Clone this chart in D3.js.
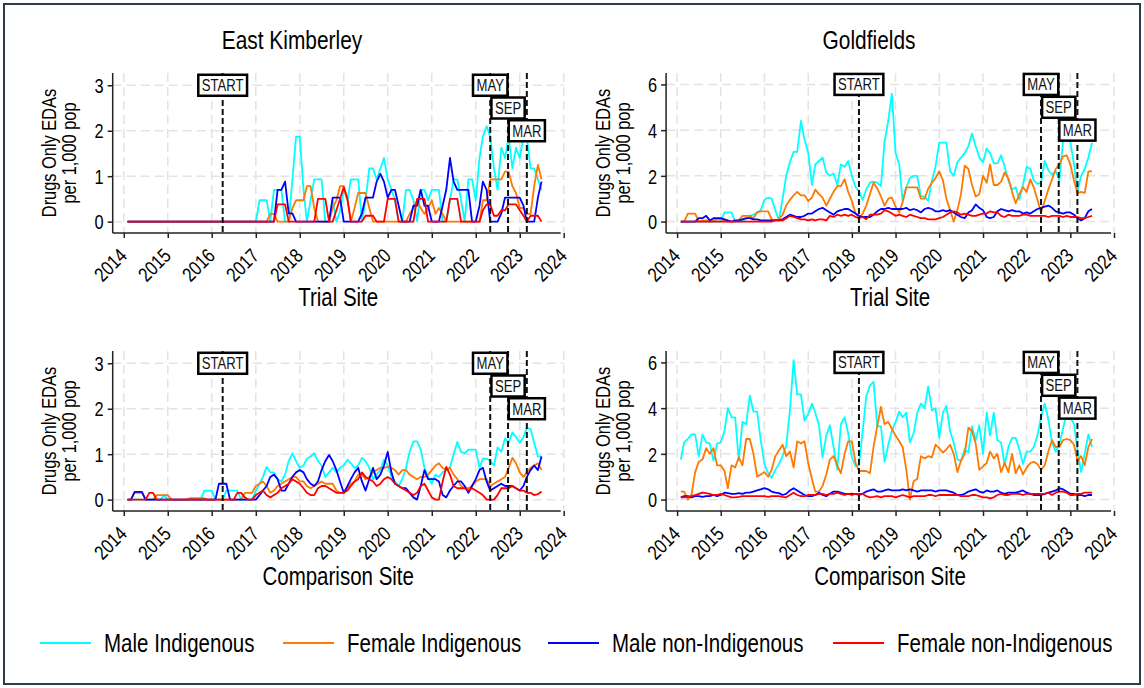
<!DOCTYPE html>
<html>
<head>
<meta charset="utf-8">
<script src="https://cdn.jsdelivr.net/npm/d3@7"></script>
<style>
  body { margin: 0; background: #fff; }
  svg { display: block; }
</style>
</head>
<body>
<svg id="chart" width="1144" height="688"></svg>
<script>
// Monthly drug-only ED attendances per 1,000 population, Feb 2014 – Jul 2023 (114 months)
const months = d3.timeMonth.range(new Date(2014, 1, 1), new Date(2023, 7, 1));

const seriesNames = ["Male Indigenous", "Female Indigenous", "Male non-Indigenous", "Female non-Indigenous"];
const seriesColors = ["#00ffff", "#ff7800", "#0000ff", "#ff0000"];
const yearTicks = d3.range(2014, 2025);

// ---- East Kimberley, trial site ----
const ekTrialMaleInd = [
  0,0,0,0,0,0,0,0,0,0,0,0,
  0,0,0,0,0,0,0,0,0,0,0,0,
  0,0,0,0,0,0,0,0,0,0,0,0,
  0.47,0.47,0.47,0,0.7,0.7,0.7,0,0,0.93,1.87,1.87,
  0.7,0,0.47,0.93,0.93,0.93,0,0,0.47,0,0.23,0.7,
  0.47,0.93,0.93,0.93,0,0.47,1.17,1.17,0.93,1.17,1.4,0.93,
  0.7,0.47,0,0,0.7,0.7,0.47,0,0.7,0.7,0.47,0.7,
  0.7,0.7,0,0,0.47,0.93,0.93,0.47,0,0.93,0.93,0.47,
  1.4,1.87,2.1,1.87,1.17,0.7,1.63,1.4,1.87,1.17,1.63,1.4,
  1.87,1.87,1.17,1.17,0.93,0.7
];
const ekTrialFemaleInd = [
  0,0,0,0,0,0,0,0,0,0,0,0,
  0,0,0,0,0,0,0,0,0,0,0,0,
  0,0,0,0,0,0,0,0,0,0,0,0,
  0,0,0,0.17,0.17,0,0,0,0,0.3,0.47,0.47,
  0.47,0.78,0.78,0.3,0,0,0,0,0.3,0.47,0.78,0.78,
  0.47,0,0.3,0.63,0.63,0.63,0.3,0,0,0,0,0,
  0,0,0,0,0,0.17,0.3,0.47,0.3,0.17,0.3,0.47,
  0.17,0.3,0.17,0,0,0,0,0,0,0,0,0,
  0,0.47,0.47,0.93,0.93,0.93,0.93,1.1,1.1,0.78,0.63,0.3,
  0.3,0.17,0.17,0.78,1.25,0.93
];
const ekTrialMaleNon = [
  0,0,0,0,0,0,0,0,0,0,0,0,
  0,0,0,0,0,0,0,0,0,0,0,0,
  0,0,0,0,0,0,0,0,0,0,0,0,
  0,0,0,0,0,0.7,0.7,0.88,0.18,0.18,0,0,
  0,0,0,0,0,0,0,0,0.53,0.53,0.53,0,
  0,0,0,0,0.18,0.53,0.53,0.53,0.88,1.05,0.88,0.53,
  0.7,0.7,0.35,0,0,0,0.35,0.35,0.7,0.35,0.35,0,
  0,0,0.35,0.7,1.4,0.88,0.7,0.7,0.7,0.7,0,0,
  0.35,0.88,0.7,0,0,0,0.18,0.53,0.53,0.53,0.53,0.53,
  0.35,0,0,0,0.53,0.88
];
const ekTrialFemaleNon = [
  0,0,0,0,0,0,0,0,0,0,0,0,
  0,0,0,0,0,0,0,0,0,0,0,0,
  0,0,0,0,0,0,0,0,0,0,0,0,
  0,0,0,0,0,0.38,0.38,0.38,0,0,0,0,
  0,0,0,0,0.5,0.5,0.5,0,0,0.25,0.5,0.76,
  0.5,0,0,0,0,0.13,0.13,0.13,0,0,0,0.5,
  0.5,0.5,0,0,0,0,0,0.5,0.5,0.5,0,0,
  0,0,0,0,0.5,0.5,0.5,0,0,0,0,0,
  0,0.25,0.38,0.38,0.13,0.13,0.25,0.25,0.38,0.38,0.38,0.25,
  0.13,0,0.13,0.13,0.13,0
];

// ---- Goldfields, trial site ----
const gfTrialMaleInd = [
  0,0,0,0,0,0,0,0,0,0,0,0,
  0.4,0.4,0.4,0,0,0.05,0.1,0.25,0.3,0.4,0.5,0.95,
  1.05,1.0,0.5,0.05,1.0,2.0,2.6,3.05,3.05,4.4,3.6,3.0,
  1.6,2.5,2.65,2.8,2.15,2.0,2.1,1.6,2.5,2.4,2.65,2.0,
  1.5,1.35,0.95,1.4,1.7,1.75,1.7,1.55,3.5,4.4,5.6,3.0,
  2.5,0.9,1.5,1.9,2.0,2.0,1.1,1.1,0.9,1.8,2.4,3.45,
  3.45,3.45,2.2,2.0,2.6,2.8,3.0,3.3,3.85,3.3,2.8,2.6,
  3.2,3.0,2.55,2.55,2.9,2.4,1.8,1.4,1.5,0.95,1.6,2.4,
  2.3,1.8,1.65,1.7,2.65,2.25,2.05,2.2,1.8,3.5,3.9,3.5,
  2.5,1.3,2.0,2.3,2.8,3.45
];
const gfTrialFemaleInd = [
  0,0,0.35,0.35,0.35,0,0.05,0.05,0,0.05,0.1,0.1,
  0.05,0,0,0,0.05,0.25,0.25,0.25,0.15,0.4,0.45,0.45,
  0.45,0.1,0.05,0.1,0.3,0.7,0.95,1.15,1.3,1.15,1.15,0.9,
  1.05,1.4,1.2,1.05,0.7,1.0,1.3,1.55,1.55,1.85,1.3,0.9,
  0.35,0.15,0.35,0.7,1.2,1.7,1.45,1.1,0.7,1.0,1.05,0.65,
  0.4,0.85,1.5,1.5,1.5,1.5,1.0,1.0,1.45,1.7,1.9,2.2,
  1.8,1.0,0.5,0.0,0.5,1.2,2.45,2.3,1.6,1.1,1.2,2.0,
  1.7,2.5,1.6,1.6,1.75,2.15,1.9,1.3,0.8,1.2,1.5,1.3,
  1.85,1.5,0.95,0.4,0.9,1.4,1.85,2.3,2.5,2.85,2.9,2.5,
  1.8,1.25,1.3,1.25,2.2,2.2
];
const gfTrialMaleNon = [
  0,0,0,0,0,0.15,0.15,0.25,0.05,0.15,0.15,0.15,
  0.1,0.05,0,0.05,0.05,0.1,0.15,0.15,0.1,0.1,0.05,0.05,
  0.05,0.05,0.05,0.05,0.1,0.2,0.3,0.25,0.2,0.2,0.25,0.35,
  0.35,0.45,0.55,0.6,0.5,0.4,0.3,0.45,0.5,0.55,0.55,0.45,
  0.35,0.25,0.2,0.2,0.2,0.3,0.45,0.55,0.55,0.6,0.55,0.55,
  0.55,0.55,0.6,0.5,0.55,0.5,0.4,0.55,0.6,0.55,0.45,0.45,
  0.5,0.45,0.5,0.4,0.3,0.2,0.15,0.4,0.5,0.75,0.6,0.5,
  0.2,0.15,0.2,0.45,0.55,0.5,0.45,0.5,0.45,0.45,0.35,0.4,
  0.35,0.45,0.55,0.6,0.65,0.7,0.6,0.45,0.4,0.35,0.4,0.4,
  0.3,0.15,0.05,0.15,0.45,0.55
];
const gfTrialFemaleNon = [
  0,0,0,0,0,0,0,0,0,0,0,0,
  0,0,0,0,0,0,0,0,0,0,0,0,
  0,0,0.05,0.05,0.05,0.15,0.25,0.2,0.15,0.1,0.1,0.05,
  0.1,0.05,0.1,0.1,0.05,0.25,0.2,0.3,0.25,0.3,0.25,0.3,
  0.2,0.15,0.2,0.1,0.3,0.3,0.3,0.35,0.5,0.45,0.35,0.25,
  0.3,0.25,0.2,0.3,0.25,0.2,0.15,0.15,0.1,0.1,0.1,0.15,
  0.2,0.3,0.4,0.45,0.4,0.3,0.35,0.3,0.25,0.25,0.3,0.35,
  0.35,0.45,0.4,0.4,0.25,0.2,0.3,0.25,0.25,0.25,0.3,0.3,
  0.25,0.25,0.25,0.25,0.25,0.2,0.25,0.25,0.25,0.2,0.25,0.2,
  0.2,0.2,0.15,0.15,0.2,0.25
];

// ---- East Kimberley, comparison site ----
const ekCompMaleInd = [
  0,0,0,0,0,0,0,0,0,0,0.1,0,
  0,0,0,0,0,0,0,0,0,0.2,0.2,0.2,
  0,0,0,0.2,0.2,0.2,0.2,0,0,0,0,0.2,
  0.35,0.5,0.72,0.6,0.6,0.45,0.4,0.55,0.85,1.02,0.85,0.7,
  0.75,0.9,0.95,1.02,0.85,0.75,0.5,0.6,0.7,0.6,0.7,0.75,
  0.88,0.8,0.7,0.75,0.92,0.85,0.7,0.45,0.55,0.65,0.88,0.75,
  0.5,0.4,0.3,0.45,0.7,1.05,1.28,1.28,1.1,0.7,0.5,0.35,
  0.55,0.5,0.6,0.65,0.7,1.0,1.27,1.05,1.02,1.1,1.1,1.1,
  0.7,0.9,0.9,0.85,0.75,1.15,1.05,1.35,1.25,1.48,1.38,1.25,
  1.38,1.58,1.55,1.25,0.95,0.95
];
const ekCompFemaleInd = [
  0,0,0.15,0.15,0.15,0,0,0,0.1,0.1,0.1,0.1,
  0,0,0,0,0,0.03,0.03,0.03,0.03,0.03,0,0,
  0,0,0,0,0,0,0,0,0.15,0.15,0.15,0.3,
  0.35,0.4,0.3,0.15,0.2,0.3,0.35,0.4,0.45,0.5,0.5,0.4,
  0.4,0.3,0.25,0.3,0.35,0.4,0.35,0.35,0.35,0.2,0.15,0.15,
  0.25,0.35,0.4,0.55,0.55,0.45,0.5,0.6,0.65,0.7,0.7,0.72,
  0.7,0.65,0.55,0.65,0.65,0.55,0.5,0.45,0.5,0.5,0.55,0.65,
  0.75,0.8,0.7,0.65,0.7,0.55,0.45,0.3,0.25,0.25,0.3,0.4,
  0.45,0.45,0.45,0.3,0.35,0.4,0.45,0.5,0.7,0.92,0.8,0.6,
  0.5,0.6,0.7,0.75,0.8,0.65
];
const ekCompMaleNon = [
  0,0,0.17,0.17,0.17,0,0,0,0,0,0,0,
  0,0,0,0,0,0,0,0,0,0,0,0,
  0,0.35,0.35,0.35,0,0,0,0,0,0,0,0,
  0.1,0.2,0.3,0.5,0.55,0.45,0.2,0.2,0.35,0.5,0.6,0.65,
  0.6,0.45,0.35,0.3,0.4,0.65,0.85,0.98,0.85,0.65,0.4,0.15,
  0.3,0.45,0.6,0.7,0.4,0.2,0.45,0.7,0.45,0.55,0.75,1.05,
  0.6,0.35,0.3,0.25,0.25,0.15,0.05,0,0.3,0.65,0.45,0.45,
  0.45,0.4,0.1,0.05,0.2,0.3,0.4,0.4,0.3,0.15,0.3,0.45,
  0.65,0.7,0.4,0.2,0.25,0.3,0.35,0.3,0.3,0.3,0.25,0.2,
  0.3,0.5,0.65,0.75,0.65,0.95
];
const ekCompFemaleNon = [
  0,0,0,0,0,0,0.15,0.15,0,0,0,0,
  0,0,0,0,0,0,0,0,0,0,0,0,
  0,0,0,0,0,0,0.15,0.15,0.05,0,0,0.1,
  0.15,0.2,0.1,0.05,0.1,0.15,0.25,0.3,0.35,0.45,0.4,0.35,
  0.25,0.15,0.1,0.1,0.25,0.3,0.3,0.25,0.2,0.15,0.15,0.15,
  0.2,0.3,0.4,0.45,0.6,0.5,0.45,0.4,0.3,0.35,0.45,0.5,
  0.45,0.35,0.3,0.25,0.2,0.15,0.1,0.15,0.3,0.35,0.2,0.05,
  0,0,0.4,0.72,0.55,0.3,0.25,0.25,0.25,0.2,0.25,0.2,
  0.15,0.1,0,0,0,0.1,0.25,0.25,0.25,0.3,0.25,0.2,
  0.2,0.15,0.15,0.1,0.12,0.18
];

// ---- Goldfields, comparison site ----
const gfCompMaleInd = [
  1.75,2.5,2.65,2.85,2.85,1.9,2.85,2.5,2.45,1.7,2.45,2.5,
  3.0,4.0,3.6,3.6,1.7,3.4,3.3,4.55,3.85,3.85,2.6,1.55,
  1.15,0.95,1.3,1.55,1.9,2.35,3.9,6.1,4.6,4.6,3.45,3.75,
  4.2,3.8,3.25,1.85,2.8,3.25,2.3,1.3,3.3,3.6,2.9,1.85,
  1.45,1.5,3.0,4.5,5.0,5.15,3.2,3.2,1.65,2.4,3.0,3.4,
  3.85,3.6,3.8,2.5,2.9,3.8,4.2,4.0,4.95,3.9,4.0,2.7,
  3.8,4.1,3.0,2.5,1.75,1.7,2.2,2.05,3.2,2.6,3.25,2.0,
  3.8,2.8,3.8,2.6,2.5,1.5,2.3,2.7,2.7,2.2,1.55,2.1,
  2.1,2.3,2.8,3.6,4.2,3.5,2.5,2.1,2.4,3.1,3.8,3.6,
  3.3,2.2,1.2,2.0,2.85,2.3
];
const gfCompFemaleInd = [
  0.35,0.35,0.0,0.2,1.2,1.65,1.75,2.25,2.0,2.25,1.5,1.5,
  1.25,0.5,1.5,1.4,1.85,1.5,2.65,2.65,2.0,1.0,1.1,1.2,
  1.0,1.3,1.9,2.15,2.4,1.9,2.1,1.4,2.55,2.45,2.55,1.6,
  0.9,0.35,0.35,0.6,1.1,1.75,1.9,1.5,1.15,2.0,2.55,2.55,
  1.6,1.25,1.25,1.25,1.15,2.3,3.2,4.05,3.3,3.4,3.1,2.8,
  2.55,2.3,1.3,0.0,0.8,0.9,1.9,1.8,1.9,1.85,2.4,2.25,
  2.05,2.2,2.4,2.0,1.2,1.7,2.0,3.15,3.0,2.45,1.3,1.45,
  1.6,2.1,1.8,2.0,1.2,1.6,1.2,2.0,1.15,1.5,1.1,1.4,
  1.6,1.65,1.55,1.3,1.5,2.1,2.6,2.3,2.3,2.6,2.65,2.6,
  2.4,1.7,1.9,1.5,2.3,2.65
];
const gfCompMaleNon = [
  0.1,0.15,0.15,0.1,0.15,0.15,0.12,0.15,0.15,0.2,0.15,0.2,
  0.3,0.28,0.25,0.25,0.28,0.25,0.3,0.3,0.35,0.4,0.45,0.5,
  0.45,0.35,0.3,0.28,0.2,0.25,0.4,0.5,0.4,0.3,0.2,0.15,
  0.15,0.2,0.3,0.2,0.15,0.25,0.35,0.35,0.3,0.25,0.25,0.25,
  0.25,0.2,0.25,0.35,0.4,0.45,0.35,0.35,0.4,0.45,0.4,0.4,
  0.4,0.45,0.4,0.45,0.4,0.35,0.4,0.4,0.4,0.4,0.35,0.4,
  0.4,0.4,0.35,0.3,0.2,0.2,0.25,0.35,0.4,0.45,0.35,0.3,
  0.4,0.35,0.35,0.4,0.3,0.25,0.3,0.3,0.3,0.35,0.4,0.3,
  0.25,0.2,0.2,0.2,0.25,0.3,0.35,0.4,0.5,0.45,0.35,0.25,
  0.25,0.2,0.2,0.15,0.2,0.2
];
const gfCompFemaleNon = [
  0.1,0.1,0.12,0.15,0.2,0.25,0.3,0.28,0.25,0.2,0.2,0.25,
  0.2,0.15,0.1,0.1,0.12,0.15,0.15,0.15,0.15,0.15,0.15,0.15,
  0.12,0.15,0.15,0.15,0.12,0.1,0.2,0.3,0.2,0.15,0.15,0.2,
  0.2,0.2,0.25,0.25,0.2,0.25,0.25,0.3,0.25,0.2,0.25,0.2,
  0.25,0.25,0.25,0.15,0.1,0.12,0.15,0.1,0.15,0.15,0.15,0.1,
  0.15,0.2,0.15,0.1,0.15,0.15,0.15,0.15,0.2,0.2,0.15,0.2,
  0.2,0.2,0.2,0.2,0.2,0.15,0.15,0.15,0.2,0.2,0.15,0.1,
  0.1,0.05,0.1,0.2,0.25,0.2,0.2,0.25,0.25,0.25,0.2,0.25,
  0.25,0.25,0.25,0.25,0.25,0.3,0.2,0.3,0.35,0.35,0.3,0.2,
  0.2,0.25,0.25,0.3,0.3,0.3
];

// Policy milestones drawn as dashed reference lines
const ekStart = new Date(2016, 3, 1);
const gfStart = new Date(2018, 2, 1);
const mayDate = new Date(2022, 4, 1);
const sepDate = new Date(2022, 8, 26);
const marDate = new Date(2023, 2, 1);

const ekTicks = [0, 1, 2, 3];
const gfTicks = [0, 2, 4, 6];

// ---------------------------------------------------------------------------
// Narrow sans: regular Liberation Sans compressed horizontally
const FONT = '"Liberation Sans", Arial, sans-serif';
const NARROW = 0.82;
const svg = d3.select("#chart").style("font-family", FONT);

function label(parent, x, y, str, size, anchor, rotate) {
  return parent.append("text")
    .attr("transform", `translate(${x},${y})${rotate ? ` rotate(${rotate})` : ""} scale(${NARROW},1)`)
    .attr("text-anchor", anchor || "start")
    .attr("font-size", size).attr("fill", "#000").text(str);
}

svg.append("rect")
  .attr("x", 4).attr("y", 4).attr("width", 1136).attr("height", 680)
  .attr("fill", "#fff").attr("stroke", "#2d3b4b").attr("stroke-width", 2);

const cols = [
  { x0: 112.7, x1: 563.7, titleX: 292, yTitleX: 49 },
  { x0: 666.1, x1: 1114, titleX: 869, yTitleX: 603 }
];
const rows = [
  { top: 73, bottom: 233, subY: 306 },
  { top: 351, bottom: 511, subY: 585 }
];

const panels = [
  { col: 0, row: 0, title: "East Kimberley", site: "Trial Site",
    series: [ekTrialMaleInd, ekTrialFemaleInd, ekTrialMaleNon, ekTrialFemaleNon],
    ticks: ekTicks, yDomain: [-0.25, 3.27], start: ekStart },
  { col: 1, row: 0, title: "Goldfields", site: "Trial Site",
    series: [gfTrialMaleInd, gfTrialFemaleInd, gfTrialMaleNon, gfTrialFemaleNon],
    ticks: gfTicks, yDomain: [-0.5, 6.5], start: gfStart },
  { col: 0, row: 1, title: null, site: "Comparison Site",
    series: [ekCompMaleInd, ekCompFemaleInd, ekCompMaleNon, ekCompFemaleNon],
    ticks: ekTicks, yDomain: [-0.25, 3.27], start: ekStart },
  { col: 1, row: 1, title: null, site: "Comparison Site",
    series: [gfCompMaleInd, gfCompFemaleInd, gfCompMaleNon, gfCompFemaleNon],
    ticks: gfTicks, yDomain: [-0.5, 6.5], start: gfStart }
];

panels.forEach(p => {
  const c = cols[p.col], r = rows[p.row];
  const x = d3.scaleTime().domain([new Date(2013, 9, 1), new Date(2024, 0, 1)]).range([c.x0, c.x1]);
  const y = d3.scaleLinear().domain(p.yDomain).range([r.bottom, r.top]);
  const top = p.ticks[p.ticks.length - 1];
  const g = svg.append("g");

  // dashed grid
  const grid = g.append("g").attr("stroke", "#e3e3e3").attr("stroke-width", 1.5)
    .attr("stroke-dasharray", "9,5").attr("fill", "none");
  yearTicks.forEach(yr => {
    const xv = x(new Date(yr, 0, 1));
    grid.append("line").attr("x1", xv).attr("x2", xv).attr("y1", r.top).attr("y2", r.bottom);
  });
  p.ticks.forEach(t => {
    grid.append("line").attr("x1", c.x0).attr("x2", c.x1).attr("y1", y(t)).attr("y2", y(t));
  });

  // series
  const line = d3.line().x((d, i) => x(months[i])).y(d => y(d));
  p.series.forEach((vals, k) => {
    g.append("path").datum(vals)
      .attr("d", line).attr("fill", "none")
      .attr("stroke", seriesColors[k]).attr("stroke-width", 1.8)
      .attr("stroke-linejoin", "round");
  });

  // milestone lines
  const events = [
    { label: "START", date: p.start, level: top },
    { label: "MAY", date: mayDate, level: top },
    { label: "SEP", date: sepDate, level: top * 5 / 6 },
    { label: "MAR", date: marDate, level: top * 2 / 3 }
  ];
  events.forEach(ev => {
    g.append("line")
      .attr("x1", x(ev.date)).attr("x2", x(ev.date))
      .attr("y1", r.top).attr("y2", r.bottom)
      .attr("stroke", "#111").attr("stroke-width", 2).attr("stroke-dasharray", "6,3");
  });

  // axes
  g.append("line").attr("x1", c.x0).attr("x2", c.x0).attr("y1", r.top).attr("y2", r.bottom)
    .attr("stroke", "#222").attr("stroke-width", 1.5);
  g.append("line").attr("x1", c.x0).attr("x2", c.x1 - 3).attr("y1", r.bottom).attr("y2", r.bottom)
    .attr("stroke", "#222").attr("stroke-width", 1.5);

  const yAxis = g.append("g").attr("transform", `translate(${c.x0},0)`)
    .call(d3.axisLeft(y).tickValues(p.ticks).tickSize(5).tickFormat(d3.format("d")));
  yAxis.select(".domain").remove();
  yAxis.selectAll(".tick line").attr("stroke", "#222").attr("stroke-width", 1.5);
  yAxis.selectAll(".tick text")
    .attr("font-size", 20).attr("fill", "#000").style("font-family", FONT)
    .attr("x", null).attr("dy", "0.36em")
    .attr("transform", `translate(-9,0) scale(${NARROW},1)`);

  const xAxis = g.append("g").attr("transform", `translate(0,${r.bottom})`)
    .call(d3.axisBottom(x).tickValues(yearTicks.map(yr => new Date(yr, 0, 1)))
      .tickSize(5).tickFormat(d3.timeFormat("%Y")));
  xAxis.select(".domain").remove();
  xAxis.selectAll(".tick line").attr("stroke", "#222").attr("stroke-width", 1.5);
  xAxis.selectAll(".tick text")
    .attr("font-size", 20).attr("fill", "#000").style("font-family", FONT)
    .attr("text-anchor", "end").attr("x", 0).attr("y", 0).attr("dy", "0.35em")
    .attr("transform", `translate(-1,19) rotate(-45) scale(${NARROW},1)`);

  // milestone labels
  events.forEach(ev => {
    const lg = g.append("g").attr("transform", `translate(${x(ev.date)},${y(ev.level)})`);
    const box = lg.append("rect").attr("fill", "#fff").attr("stroke", "#000").attr("stroke-width", 2.5);
    const t = label(lg, 0, 0, ev.label, 16, "middle").attr("dy", "0.36em").attr("fill", "#111");
    const w = t.node().getComputedTextLength() * NARROW + 7;
    box.attr("x", -w / 2).attr("y", -10.5).attr("width", w).attr("height", 21);
  });

  // y title (two lines)
  const ymid = (r.top + r.bottom) / 2;
  label(g, c.yTitleX, ymid, "Drugs Only EDAs", 20, "middle", -90).attr("dy", "0.35em");
  label(g, c.yTitleX + 20, ymid, "per 1,000 pop", 20, "middle", -90).attr("dy", "0.35em");

  // site caption under x axis
  label(g, (c.x0 + c.x1) / 2, r.subY, p.site, 25, "middle");

  if (p.title) label(g, c.titleX, 49, p.title, 25.5, "middle");
});

// legend
const legendX = [40, 283, 548, 833];
const legend = svg.append("g").attr("transform", "translate(0,643)");
seriesNames.forEach((name, k) => {
  legend.append("line").attr("x1", legendX[k]).attr("x2", legendX[k] + 51)
    .attr("y1", 0).attr("y2", 0).attr("stroke", seriesColors[k]).attr("stroke-width", 2);
  label(legend, legendX[k] + 64, 0, name, 25, "start").attr("dy", "0.35em");
});
</script>
</body>
</html>
